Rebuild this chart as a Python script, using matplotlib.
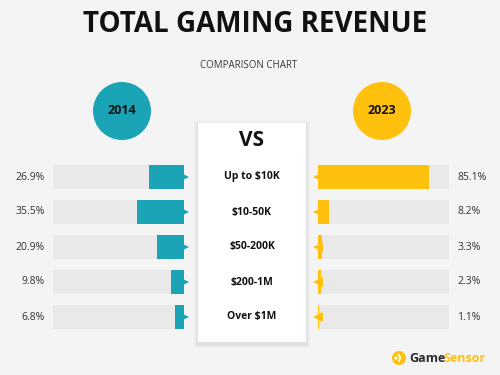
import matplotlib
matplotlib.use("Agg")
import matplotlib.pyplot as plt
from matplotlib.patches import Circle, Rectangle, Arc

categories = ["Up to $10K", "$10-50K", "$50-200K", "$200-1M", "Over $1M"]
values_2014 = [26.9, 35.5, 20.9, 9.8, 6.8]
values_2023 = [85.1, 8.2, 3.3, 2.3, 1.1]
years = ["2014", "2023"]

BG = "#f4f4f4"
TRACK = "#e9e9e9"
TEAL = "#1ba3b6"
YELLOW = "#ffc10e"
DARK = "#111111"
TXT = "#333333"

W, H = 500, 375
fig = plt.figure(figsize=(5, 3.75), dpi=100)
fig.patch.set_facecolor(BG)

bg = fig.add_axes([0, 0, 1, 1])
bg.set_xlim(0, W)
bg.set_ylim(H, 0)
bg.axis("off")
bg.set_facecolor(BG)

# Title and subtitle
bg.text(255, 25, "TOTAL GAMING REVENUE", ha="center", va="center",
        fontsize=20, fontweight="bold", family="Open Sans", color=DARK)
bg.text(249, 66, "COMPARISON CHART", ha="center", va="center",
        fontsize=7, family="Open Sans", color="#3a3a3a")

# Year circles
bg.add_patch(Circle((122, 111), 29, color=TEAL, lw=0))
bg.add_patch(Circle((382, 111), 29, color=YELLOW, lw=0))
bg.text(122, 111, years[0], ha="center", va="center", fontsize=9,
        fontweight="bold", family="Open Sans", color=DARK)
bg.text(382, 111, years[1], ha="center", va="center", fontsize=9,
        fontweight="bold", family="Open Sans", color=DARK)

# Central white panel with soft shadow
for d in [4, 3, 2, 1]:
    bg.add_patch(Rectangle((198 - d, 123 - d + 2), 108 + 2 * d, 219 + 2 * d,
                           color="#000000", alpha=0.018, lw=0))
bg.add_patch(Rectangle((198, 123), 108, 219, color="white", lw=0))
bg.text(252, 140, "VS", ha="center", va="center", fontsize=15,
        fontweight="bold", family="Open Sans", color=DARK)

# Bar panels
row_top, row_bot = 159.5, 334.5
n = len(categories)
ypos = list(range(n))
bh = 0.66

def add_panel(x0, x1):
    ax = fig.add_axes([x0 / W, 1 - row_bot / H, (x1 - x0) / W, (row_bot - row_top) / H])
    ax.set_facecolor("none")
    ax.axis("off")
    ax.set_ylim(n - 0.5, -0.5)
    return ax

axl = add_panel(53, 184)
axl.set_xlim(100, 0)
axl.barh(ypos, [100] * n, height=bh, color=TRACK, lw=0, zorder=1)
axl.barh(ypos, values_2014, height=bh, color=TEAL, lw=0, zorder=2)
axl.plot([0] * n, ypos, ls="none", marker=">", ms=7, color=TEAL, mew=0, zorder=3, clip_on=False)

axr = add_panel(318, 449)
axr.set_xlim(0, 100)
axr.barh(ypos, [100] * n, height=bh, color=TRACK, lw=0, zorder=1)
axr.barh(ypos, values_2023, height=bh, color=YELLOW, lw=0, zorder=2)
axr.plot([0] * n, ypos, ls="none", marker="<", ms=7, color=YELLOW, mew=0, zorder=3, clip_on=False)

for i in range(n):
    axl.annotate(f"{values_2014[i]}%", xy=(100, i), xytext=(-6, 0), textcoords="offset points",
                 ha="right", va="center", fontsize=7.5, family="Open Sans", color=TXT)
    axr.annotate(f"{values_2023[i]}%", xy=(100, i), xytext=(6, 0), textcoords="offset points",
                 ha="left", va="center", fontsize=7.5, family="Open Sans", color=TXT)
    bg.text(252, 177 + 35 * i, categories[i], ha="center", va="center", fontsize=7.5,
            fontweight="bold", family="Open Sans", color=DARK)

# Logo
bg.add_patch(Circle((399, 358), 7, color=YELLOW, lw=0))
bg.add_patch(Arc((396, 358), 8, 8, theta1=-60, theta2=60, color="white", lw=1.2))
bg.add_patch(Circle((396, 358), 1.6, color="white", lw=0))
bg.text(409, 358, "Game", ha="left", va="center", fontsize=9, fontweight="bold",
        family="Open Sans", color="#2b2b2b")
bg.text(443, 358, "Sensor", ha="left", va="center", fontsize=9, fontweight="bold",
        family="Open Sans", color=YELLOW)

fig.savefig("out.png", dpi=100, facecolor=BG)
